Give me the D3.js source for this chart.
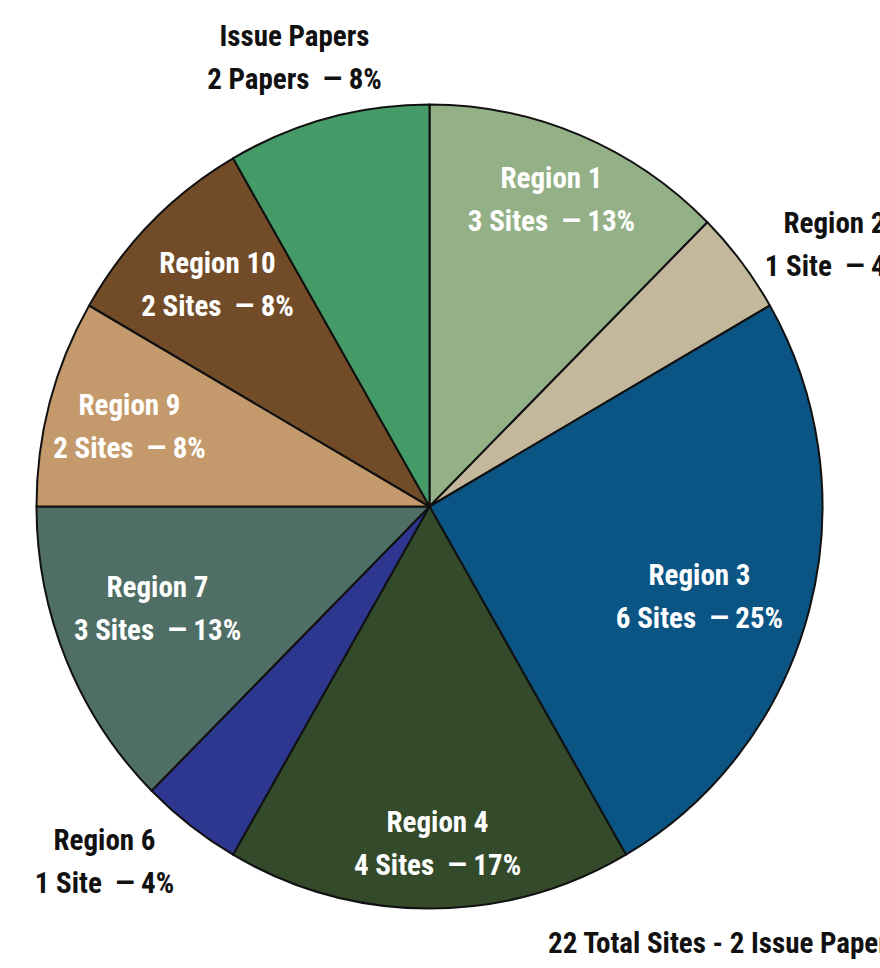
<!DOCTYPE html>
<html>
<head>
<meta charset="utf-8">
<script src="https://cdn.jsdelivr.net/npm/d3@7"></script>
<style>
html,body{margin:0;padding:0;background:#fff;overflow:hidden;}
svg{display:block;}
text{font-family:"Liberation Sans Narrow","Roboto Condensed","Liberation Sans",sans-serif;font-weight:bold;}
</style>
</head>
<body>
<svg id="chart" width="880" height="968"></svg>
<script>
// ---- data ----
const categories = ["Region 1","Region 2","Region 3","Region 4","Region 6","Region 7","Region 9","Region 10","Issue Papers"];
const counts     = [3, 1, 6, 4, 1, 3, 2, 2, 2];
const units      = ["Sites","Site","Sites","Sites","Site","Sites","Sites","Sites","Papers"];
const percents   = ["13%","4%","25%","17%","4%","13%","8%","8%","8%"];
const colors     = ["#93b087","#c4b89c","#0b5585","#334a2b","#2e3790","#4e6e66","#c49a6c","#724c28","#459b67"];
const footnote   = "22 Total Sites - 2 Issue Papers";

// ---- layout (label placement relative to pie centre, text colour) ----
const labelOffsets = [[122,-319],[405,-274],[270,78],[8,325],[-325,343],[-272,90],[-300,-92],[-212,-234],[-135,-461]];
const labelInside  = [true,false,true,true,false,true,true,true,false];

const cx = 429.5, cy = 506.5, rx = 393, ry = 402;

const svg = d3.select("#chart");
const data = categories.map((c,i)=>({name:c,value:counts[i],unit:units[i],pct:percents[i],color:colors[i],i}));

const pie = d3.pie().value(d=>d.value).sort(null).startAngle(0).endAngle(2*Math.PI);
const arc = d3.arc().innerRadius(0).outerRadius(rx);

const g = svg.append("g").attr("transform",`translate(${cx},${cy}) scale(1,${ry/rx})`);
g.selectAll("path").data(pie(data)).join("path")
  .attr("d",arc)
  .attr("fill",d=>d.data.color)
  .attr("stroke","#111")
  .attr("stroke-width",2)
  .attr("stroke-linejoin","round");

const lg = svg.append("g").attr("transform",`translate(${cx},${cy})`);
data.forEach((d,i)=>{
  const [dx,dy] = labelOffsets[i];
  const t = lg.append("text")
    .attr("x",dx).attr("y",dy)
    .attr("text-anchor","middle")
    .attr("font-size",29)
    .attr("fill",labelInside[i] ? "#ffffff" : "#111111");
  t.append("tspan").attr("x",dx).attr("dy",0).text(d.name);
  t.append("tspan").attr("x",dx).attr("dy",43).attr("xml:space","preserve")
    .text(`${d.value} ${d.unit}  \u2014 ${d.pct}`);
});

svg.append("text")
  .attr("x",548).attr("y",953)
  .attr("font-size",29)
  .attr("fill","#111")
  .text(footnote);
</script>
</body>
</html>
